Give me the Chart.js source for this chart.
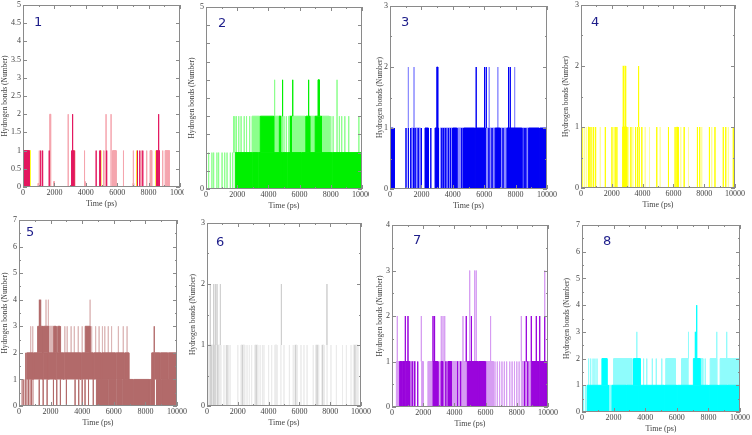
<!DOCTYPE html>
<html><head><meta charset="utf-8">
<script src="https://cdn.jsdelivr.net/npm/chart.js@4.4.1/dist/chart.umd.min.js"></script>
<style>
html,body{margin:0;padding:0;background:#fff;}
body{width:752px;height:435px;position:relative;overflow:hidden;}
.wrap{position:absolute;overflow:hidden;}
.wrap canvas{position:absolute;left:0;top:0;}
.num{position:absolute;font-family:"DejaVu Sans",sans-serif;font-size:13px;color:#1d1d8a;line-height:1;}
</style></head><body>
<script>
// ---- data: [start, end, low, high] blocks or [time, low, high] single frames (time in ps, H-bond count) ----
const timeTicks = [0, 2000, 4000, 6000, 8000, 10000];
const panelNames = ['1','2','3','4','5','6','7','8'];

const p1Light = [[950,1000,0,0.1],[1040,0,1],[1700,1760,0,2],[1950,2000,0,0.15],[2880,0,2],[3300,0,1],[3920,0,1],[3950,4000,0,0.15],[5130,0,1],[5230,0,1],[5290,0,2],[5610,0,2],[5700,5930,0,1],[6400,0,1],[7000,7050,0,0.1],[7030,0,1],[7560,0,1],[7880,0,1],[8090,8200,0,1],[8900,0,1],[9050,9320,0,1]];
const p1Yellow = [[420,470,0,1],[3270,0,1],[4960,0,1],[7240,0,1],[8470,0,1]];
const p1Dense = [[0,400,0,1],[1130,0,1],[1250,0,1],[1670,0,1],[3080,3110,0,1],[3160,0,2],[3220,3250,0,1],[4660,0,1],[4870,4900,0,1],[4940,0,1],[5330,0,1],[7270,7300,0,1],[7420,7450,0,1],[7630,0,1],[8500,8560,0,1],[8620,8680,0,1],[8640,1,2]];

const p2Light = [[170,0,1],[380,0,1],[490,0,1],[700,0,1],[810,0,1],[1030,0,1],[1200,0,1],[1350,0,1],[1560,0,1],[1710,0,1],
 [1770,1,2],[1850,1,2],[1950,1,2],[2100,1,2],[2250,1,2],[2450,1,2],[2600,1,2],[2800,1,2],
 [2950,3450,1,2],[4340,4900,1,2],[5000,1,2],[5150,1,2],[5300,6350,1,2],[6650,7000,1,2],[7400,7900,1,2],
 [8000,1,2],[8150,1,2],[8400,1,2],[8550,1,2],[8700,1,2],[8900,1,2],[9150,1,2],[9800,1,2],[4400,2,3],[8400,2,3]];
const p2Dense = [[1880,2930,0,1],[2970,3310,0,1],[3350,4890,0,1],[4930,5170,0,1],[5210,6090,0,1],[6130,8060,0,1],[8100,9960,0,1],
 [3480,4340,1,2],[4700,4780,1,2],[5420,5480,1,2],[6400,6650,1,2],[7000,7400,1,2],[4910,2,3],[5560,2,3],[6580,2,3],[7180,7260,2,3]];

const p3Light = [[1170,1,2],[1530,1,2],[6320,1,2],[6870,1,2],[7940,1,2],[1350,1950,0,1],[3200,3950,0,1],[4280,4650,0,1],[6100,6700,0,1],[7020,7450,0,1],[8400,8830,0,1]];
const p3Dense = [[0,210,0,1],[280,0,1],[1020,0,1],[1170,0,1],[1320,0,1],[1500,0,1],[1600,0,1],[1800,0,1],[2000,0,1],
 [2230,2450,0,1],[2600,0,1],[2870,3090,0,1],[3300,0,1],[3420,0,1],[3550,0,1],[3720,0,1],[3850,0,1],
 [3980,4260,0,1],[4570,0,1],[4680,5400,0,1],[5440,6060,0,1],[6300,0,1],[6500,0,1],[6700,7020,0,1],[7200,0,1],
 [7450,8400,0,1],[8550,0,1],[8650,0,1],[8830,9500,0,1],[9540,10000,0,1],
 [2980,3040,1,2],[5490,1,2],[6020,1,2],[6130,1,2],[7550,1,2],[7660,1,2]];

const p4Light = [[2700,2920,1,2],[215,0,1],[345,0,1],[755,0,1],[1250,0,1],[2120,0,1],[3090,0,1],[3370,0,1],[4170,0,1],[4450,0,1],[5140,0,1],[6480,0,1],[6980,0,1],[7840,0,1],[8490,0,1],[9570,0,1]];
const p4Dense = [[65,0,1],[480,520,0,1],[650,0,1],[820,0,1],[950,0,1],[1580,0,1],[2010,0,1],[2220,0,1],[2330,0,1],[2700,2980,0,1],[2760,1,2],[2880,1,2],[3240,0,1],[3520,3560,0,1],[3670,0,1],[3740,1,2],[3780,0,1],[3950,0,1],[4920,0,1],[5680,0,1],[6110,0,1],[6220,6260,0,1],[6330,0,1],[6700,0,1],[7560,0,1],[7690,7720,0,1],[8340,0,1],[8700,0,1],[9240,0,1],[9400,0,1],[9890,0,1]];

const p5Light = [[170,0,1],[320,0,1],[500,900,0,1],[740,2,3],[870,2,3],[1860,2200,2,3],[2600,2650,2,3],[2900,2,3],[3050,2,3],[3300,2,3],[3500,2,3],[3750,2,3],[4000,2,3],
 [4600,2,3],[4850,2,3],[5070,2,3],[5280,2,3],[5430,2,3],[5650,2,3],[5860,2,3],[6290,2,3],[6600,2,3],[6840,2,3],[1710,3,4],[1860,3,4],[4500,3,4]];
const p5Dense = [[260,0,1],[430,0,2],[490,880,1,2],[920,1500,1,2],[1540,1850,1,2],[1900,2300,1,2],[2350,2820,1,2],[2860,3900,1,2],[3950,4700,1,2],[4750,5200,1,2],[5250,6100,1,2],[6150,6650,1,2],[6700,6950,1,2],
 [1180,1500,2,3],[1550,1860,2,3],[2200,2350,2,3],[2450,2600,2,3],[4190,4500,2,3],[1290,3,4],[1370,3,4],
 [600,0,1],[780,0,1],[1280,0,1],[1530,0,1],[1780,0,1],[2180,0,1],[2390,0,1],[2620,0,1],[3000,0,1],[3550,0,1],[3780,0,1],[4000,0,1],[4180,0,1],[4400,0,1],[4700,0,1],
 [4900,5600,0,1],[5650,6100,0,1],[6180,6500,0,1],[6560,7200,0,1],[7250,8250,0,1],[8300,8550,0,1],[8700,9000,0,1],[9050,10000,0,1],
 [8400,8550,1,2],[8600,8900,1,2],[8950,9400,1,2],[9450,10000,1,2],[8560,2,3]];

const p6Light = [[0,900,0,1],[1100,0,1],[1250,0,1],[1400,0,1],[1500,0,1],[2000,0,1],[2200,2450,0,1],[2600,0,1],[2750,0,1],[2900,0,1],[3100,3300,0,1],[3450,0,1],[3600,0,1],[3700,0,1],[4000,0,1],[4200,0,1],[4400,4550,0,1],[4800,0,1],[5000,0,1],[5350,0,1],[5600,0,1],[5700,5850,0,1],[6100,0,1],[6300,0,1],[6500,0,1],[6900,0,1],[7050,7250,0,1],[7450,7600,0,1],[7800,0,1],[8050,0,1],[8400,0,1],[8800,0,1],[9050,0,1],[9350,0,1],[9500,9800,0,1]];
const p6Dense = [[215,0,2],[430,0,2],[540,1,2],[650,1,2],[870,1,2],[4830,1,2],[7790,1,2],[300,0,1],[520,0,1],[700,0,1],[1300,0,1],[2300,0,1],[3200,0,1],[5750,0,1],[7150,0,1],[7500,0,1],[9600,0,1]];

const p7Light = [[280,490,0,1],[1130,1500,0,1],[1900,2000,0,1],[2300,2630,0,1],[3050,3590,0,1],[3800,4800,0,1],[5950,6500,0,1],
 [6600,0,1],[6750,0,1],[6900,0,1],[7050,0,1],[7200,0,1],[7350,0,1],[7550,0,1],[7700,0,1],[7850,0,1],[8000,0,1],[8150,0,1],[8290,8930,0,1],
 [340,1,2],[1880,1,2],[3160,1,2],[3270,1,2],[3380,1,2],[4550,1,2],[6320,1,2],[8290,1,2],[4980,1,3],[5300,1,3],[5400,1,3],[9790,2,3]];
const p7Dense = [[490,620,0,1],[660,800,0,1],[840,1130,0,1],[1300,0,1],[1450,0,1],[1650,0,1],[2630,2950,0,1],[3150,3250,0,1],[3450,0,1],[3590,3800,0,1],[4200,0,1],[4400,0,1],[4830,5510,0,1],[5550,5940,0,1],[6000,0,1],[8500,0,1],[8700,0,1],[8930,9400,0,1],[9450,9900,0,1],
 [855,1,2],[1025,1,2],[2630,1,2],[2730,1,2],[4760,1,2],[5090,1,2],[8610,1,2],[8930,1,2],[9250,1,2],[9470,1,2],[9790,1,2]];

const p8Light = [[420,1,2],[550,1,2],[700,1,2],[820,1,2],[950,1,2],[2000,3160,1,2],[3900,1,2],[4100,1,2],[4450,1,2],[4700,1,2],[5050,1,2],[5300,5900,1,2],[6300,6700,1,2],[7500,7650,1,2],[7800,1,2],[8110,8530,1,2],[8740,10000,1,2],
 [100,0,1],[220,0,1],[1700,1900,0,1],[3470,2,3],[6740,2,3],[8530,2,3],[9160,2,3],[7160,2,3]];
const p8Dense = [[320,1680,0,1],[1900,2800,0,1],[2840,3600,0,1],[3640,5200,0,1],[5240,6000,0,1],[6040,8000,0,1],[8040,8600,0,1],[8640,9200,0,1],[9240,10000,0,1],
 [1260,1580,1,2],[3260,3680,1,2],[7050,7470,1,2],[7260,2,4],[7200,2,3]];

const yMaxes = [5, 5, 3, 3, 7, 3, 4, 7];

// ---- layout & style ----
const panels = [
 {layers:[[p1Light,'#f5a5ae'],[p1Yellow,'#ffff30'],[p1Dense,'#e3175f']], yStep:0.5, minor:false, g:{L:23,R:180,T:5,B:187,tx:5,clip:184}, n:[38,22]},
 {layers:[[p2Light,'#8cff8c'],[p2Dense,'#00f000']], yStep:0.5, minor:false, only05:true, g:{L:206,R:362,T:7,B:189,tx:192,clip:369}, n:[222,23]},
 {layers:[[p3Light,'#8c8cff'],[p3Dense,'#0000f5']], yStep:1, minor:true, g:{L:390,R:547,T:6,B:189,tx:380}, n:[405,22]},
 {layers:[[p4Light,'#ffff9a'],[p4Dense,'#ffff00']], yStep:1, minor:true, g:{L:581,R:735,T:5,B:188,tx:566}, n:[595,22]},
 {layers:[[p5Light,'#dcb7b7'],[p5Dense,'#b26a6a']], yStep:1, minor:true, g:{L:19,R:177,T:220,B:406,tx:5}, n:[30,232]},
 {layers:[[p6Light,'#ebebeb'],[p6Dense,'#d0d0d0']], yStep:1, minor:true, g:{L:207,R:361,T:223,B:406,tx:193}, n:[220,242]},
 {layers:[[p7Light,'#d69cf2'],[p7Dense,'#9a05dc']], yStep:1, minor:true, g:{L:392,R:548,T:225,B:407,tx:380}, n:[417,240]},
 {layers:[[p8Light,'#8ffcfc'],[p8Dense,'#00ffff']], yStep:1, minor:true, g:{L:582,R:740,T:225,B:412,tx:567}, n:[607,241]}
];

function toPoints(entries){
  const items = entries.map(e => e.length === 3 ? [e[0], e[0], e[1], e[2]] : e).sort((a,b) => a[0]-b[0]);
  const pts = [];
  for (const [s,e,lo,hi] of items){
    pts.push({x:s,y:lo},{x:s,y:hi},{x:e,y:hi},{x:e,y:lo},{x:e,y:null});
  }
  return pts;
}

const framePlugin = {
  id:'frame',
  afterDatasetsDraw(chart, args, o){
    const {ctx, chartArea:a, scales:{x, y}} = chart;
    ctx.save();
    ctx.strokeStyle = '#8a8a8a'; ctx.lineWidth = 1;
    ctx.beginPath();
    for (let v = 0; v <= 10000; v += 1000){
      const px = Math.round(x.getPixelForValue(v)) + 0.5;
      const len = (v % 2000 === 0) ? 4 : 2;
      ctx.moveTo(px, a.bottom); ctx.lineTo(px, a.bottom - len);
      ctx.moveTo(px, a.top); ctx.lineTo(px, a.top + len);
    }
    const step = o.minor ? o.yStep / 2 : o.yStep;
    for (let i = 0; i * step <= o.yMax + 1e-9; i++){
      const v = i * step;
      const py = Math.round(y.getPixelForValue(v)) + 0.5;
      const major = !o.minor || i % 2 === 0;
      const len = major ? 4 : 2;
      ctx.moveTo(a.left, py); ctx.lineTo(a.left + len, py);
      ctx.moveTo(a.right, py); ctx.lineTo(a.right - len, py);
    }
    ctx.stroke();
    ctx.strokeRect(a.left + 0.5, a.top + 0.5, a.right - a.left - 1, a.bottom - a.top - 1);
    ctx.restore();
  }
};

const serif = '"Liberation Serif","DejaVu Serif",serif';
panels.forEach((p, idx) => {
  const g = p.g;
  const cl = Math.round(g.tx - 4.5);
  const axisW = g.L - cl;
  const padT = 6, padR = 14, xH = 22;
  const W = (g.R - cl) + padR;
  const H = (g.B - g.T) + padT + xH;
  const wrap = document.createElement('div');
  wrap.className = 'wrap';
  wrap.style.left = cl + 'px';
  wrap.style.top = (g.T - padT) + 'px';
  wrap.style.width = (g.clip ? g.clip - cl : W) + 'px';
  wrap.style.height = H + 'px';
  const cv = document.createElement('canvas');
  cv.width = W; cv.height = H;
  cv.style.width = W + 'px'; cv.style.height = H + 'px';
  wrap.appendChild(cv);
  document.body.appendChild(wrap);

  const nl = p.layers.length;
  const datasets = p.layers.map((L, i) => ({
    data: toPoints(L[0]),
    backgroundColor: L[1], borderColor: L[1], borderWidth: 1,
    fill: 'shape', pointRadius: 0, tension: 0, spanGaps: false,
    order: nl - i
  }));
  const yMax = yMaxes[idx];
  new Chart(cv, {
    type: 'line',
    data: {datasets},
    options: {
      responsive: false, animation: false, events: [],
      layout: {padding: {left: 0, top: padT, right: padR, bottom: 0}},
      plugins: {legend: {display: false}, tooltip: {enabled: false},
        frame: {yStep: p.yStep, minor: p.minor, yMax}},
      scales: {
        x: {type: 'linear', min: 0, max: 10000,
          afterBuildTicks: s => { s.ticks = timeTicks.map(v => ({value: v})); },
          ticks: {padding: 1, font: {family: serif, size: 8}, color: '#444', maxRotation: 0, autoSkip: false,
            callback: v => String(v)},
          grid: {display: false, drawTicks: false}, border: {display: false},
          title: {display: true, text: 'Time (ps)', font: {family: serif, size: 8}, color: '#444', padding: 0},
          afterFit: s => { s.height = xH; s.paddingLeft = 0; s.paddingRight = 0; }
        },
        y: {type: 'linear', min: 0, max: yMax,
          ticks: {stepSize: p.yStep, padding: 2, font: {family: serif, size: 8}, color: '#444', autoSkip: false,
            callback: v => p.only05 ? ((v === 0 || v === 5) ? String(v) : '') : String(v)},
          grid: {display: false, drawTicks: false}, border: {display: false},
          title: {display: true, text: 'Hydrogen bonds (Number)', font: {family: serif, size: 7.5}, color: '#444', padding: 0},
          afterFit: s => { s.width = axisW; s.paddingTop = 0; s.paddingBottom = 0; }
        }
      }
    },
    plugins: [framePlugin]
  });

  const num = document.createElement('div');
  num.className = 'num';
  num.textContent = panelNames[idx];
  num.style.left = (p.n[0] - 4) + 'px';
  num.style.top = (p.n[1] - 7) + 'px';
  document.body.appendChild(num);
});
</script>
</body></html>
